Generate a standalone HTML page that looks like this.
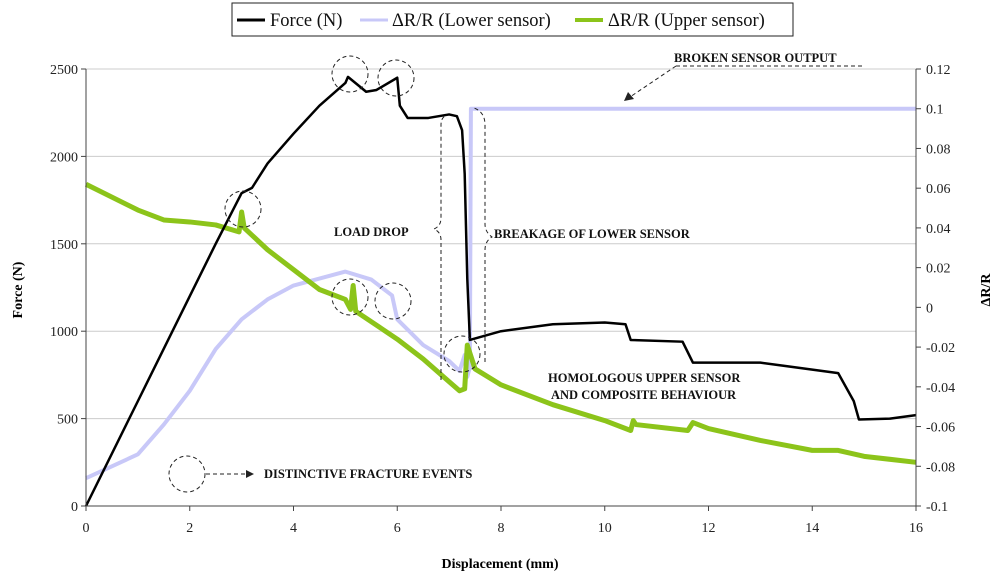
<!DOCTYPE html>
<html><head><meta charset="utf-8"><style>
body{margin:0;background:#fff;}
svg{display:block;font-family:"Liberation Serif",serif;}
.tk{font-size:14px;fill:#222;}
.ann{font-size:12.5px;font-weight:bold;fill:#111;}
</style></head><body>
<svg id="c" width="1000" height="578" viewBox="0 0 1000 578">
<g id="grid"></g><g id="series"></g><g id="axes"></g>
<g fill="none" stroke="#222" stroke-dasharray="4,3" stroke-width="1">
<circle cx="350" cy="74" r="18"/><circle cx="396" cy="78" r="18"/><circle cx="243" cy="209" r="18"/>
<circle cx="350" cy="297" r="18"/><circle cx="393" cy="301" r="18"/><circle cx="462" cy="354" r="18"/>
<circle cx="187" cy="474" r="18"/>
<path d="M441 380 L441 240 Q441 232 434 229 Q441 226 441 218 L441 125 Q441 117 447 115"/>
<path d="M485 362 L485 250 Q485 241 492 237 Q485 232 485 224 L485 125 Q485 112 474 108"/>
<path d="M206 474 L248 474"/><path d="M676 66 L862 66"/><path d="M676 66 L630 97"/>
</g>
<polygon points="254,474 246,470 246,478" fill="#222"/>
<polygon points="624,101 628,92 634,99" fill="#222"/>
<text class="ann" x="334" y="236">LOAD DROP</text>
<text class="ann" x="494" y="238">BREAKAGE OF LOWER SENSOR</text>
<text class="ann" x="674" y="62">BROKEN SENSOR OUTPUT</text>
<text class="ann" x="548" y="382">HOMOLOGOUS UPPER SENSOR</text>
<text class="ann" x="551" y="399">AND COMPOSITE BEHAVIOUR</text>
<text class="ann" x="264" y="478">DISTINCTIVE FRACTURE EVENTS</text>
<g>
<rect x="232" y="3" width="561" height="33" fill="#fff" stroke="#222" stroke-width="1"/>
<line x1="237" y1="20" x2="265" y2="20" stroke="#000" stroke-width="3"/>
<text x="270" y="26" font-size="18.5" fill="#111">Force (N)</text>
<line x1="360" y1="20" x2="388" y2="20" stroke="#c8c8f8" stroke-width="3"/>
<text x="392" y="26" font-size="18.5" fill="#111">ΔR/R (Lower sensor)</text>
<line x1="575" y1="20" x2="603" y2="20" stroke="#8cc41a" stroke-width="4"/>
<text x="608" y="26" font-size="18.5" fill="#111">ΔR/R (Upper sensor)</text>
</g>
<text x="22" y="290" transform="rotate(-90 22 290)" text-anchor="middle" font-size="14" font-weight="bold">Force (N)</text>
<text x="990" y="290" transform="rotate(-90 990 290)" text-anchor="middle" font-size="14" font-weight="bold">ΔR/R</text>
<text x="500" y="568" text-anchor="middle" font-size="14" font-weight="bold">Displacement (mm)</text>
</svg>
<script>
const forceD=[0,1,2,2.5,3,3.2,3.5,4,4.5,5,5.05,5.4,5.6,6,6.05,6.2,6.6,7,7.15,7.25,7.3,7.35,7.4,8,9,10,10.4,10.5,11.5,11.7,13,13.5,14.5,14.8,14.9,15.5,16];
const forceV=[0,600,1200,1500,1790,1820,1960,2130,2290,2420,2455,2370,2380,2450,2290,2220,2220,2240,2230,2150,1900,1300,950,1000,1040,1050,1040,950,940,820,820,800,760,600,495,500,520];
const lowerD=[0,1,1.5,2,2.5,3,3.5,4,5,5.5,5.9,6,6.5,7,7.2,7.3,7.35,7.4,7.42,16];
const lowerV=[-0.086,-0.074,-0.059,-0.042,-0.021,-0.006,0.004,0.011,0.018,0.014,0.006,-0.006,-0.019,-0.027,-0.032,-0.024,-0.035,-0.03,0.1,0.1];
const upperD=[0,1,1.5,2,2.5,2.95,3,3.05,3.5,4,4.5,5,5.1,5.15,5.2,6,6.5,7.2,7.3,7.35,7.5,8,9,10,10.5,10.55,10.6,11.6,11.7,12,13,14,14.5,15,16];
const upperV=[0.062,0.049,0.044,0.043,0.0415,0.038,0.048,0.04,0.029,0.019,0.009,0.004,-0.001,0.011,-0.002,-0.016,-0.026,-0.042,-0.041,-0.019,-0.031,-0.039,-0.049,-0.057,-0.062,-0.057,-0.059,-0.062,-0.058,-0.061,-0.067,-0.072,-0.072,-0.075,-0.078];
const xTicks=[0,2,4,6,8,10,12,14,16];
const yTicks=[0,500,1000,1500,2000,2500];
const y2Ticks=[-0.1,-0.08,-0.06,-0.04,-0.02,0,0.02,0.04,0.06,0.08,0.1,0.12];
const NS="http://www.w3.org/2000/svg";
const X=d=>86+d*(830/16), Y=f=>506-f*(437/2500), Y2=r=>506-(r+0.1)*(437/0.22);
function mk(t,a,p){const e=document.createElementNS(NS,t);for(const k in a)e.setAttribute(k,a[k]);document.getElementById(p).appendChild(e);return e;}
yTicks.forEach(v=>{if(v>0){const g=mk('line',{x1:86,x2:916,y1:Y(v),y2:Y(v),stroke:'#ccc'},'grid');

}
mk('line',{x1:81,x2:86,y1:Y(v),y2:Y(v),stroke:'#444'},'axes');
const t=mk('text',{x:78,y:Y(v)+5,'text-anchor':'end',class:'tk'},'axes');t.textContent=v;

});
y2Ticks.forEach(v=>{mk('line',{x1:916,x2:921,y1:Y2(v),y2:Y2(v),stroke:'#444'},'axes');
const t=mk('text',{x:926,y:Y2(v)+5,class:'tk'},'axes');t.textContent=Math.abs(v)<1e-9?'0':String(+v.toFixed(2));

});
xTicks.forEach(v=>{mk('line',{x1:X(v),x2:X(v),y1:506,y2:511,stroke:'#444'},'axes');
const t=mk('text',{x:X(v),y:532,'text-anchor':'middle',class:'tk'},'axes');t.textContent=v;

});
mk('line',{x1:86,x2:86,y1:69,y2:506,stroke:'#444'},'axes');
mk('line',{x1:916,x2:916,y1:69,y2:506,stroke:'#444'},'axes');
mk('line',{x1:86,x2:916,y1:506,y2:506,stroke:'#444'},'axes');
function line(ds,vs,yf,col,w,name){const p=mk('polyline',{points:ds.map((d,i)=>X(d)+','+yf(vs[i])).join(' '),fill:'none',stroke:col,'stroke-width':w,'stroke-linejoin':'round'},'series');

}
line(lowerD,lowerV,Y2,'#c8c8f8',4,'lower-sensor-line');
line(upperD,upperV,Y2,'#8cc41a',5,'upper-sensor-line');
line(forceD,forceV,Y,'#000',2.5,'force-line');
</script>
</body></html>
